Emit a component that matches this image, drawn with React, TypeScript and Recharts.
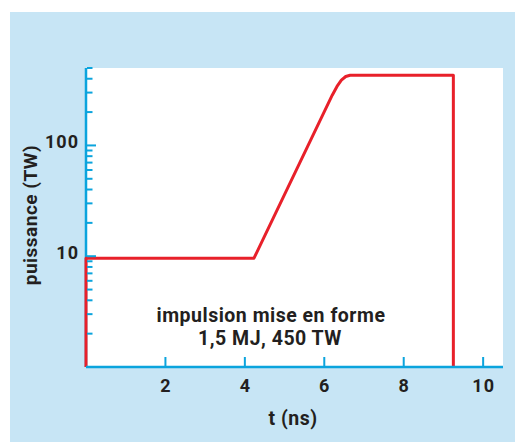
import { LineChart, Line, XAxis, YAxis, CartesianGrid } from 'recharts'

// pulse shape: time (ns) vs power (TW), log scale
const times = [0, 0, 4.23, 6.2, 6.32, 6.43, 6.54, 6.65, 9.25, 9.25]
const power = [1, 9.6, 9.6, 284, 341, 388, 419, 430, 430, 1]

const xTicks = [2, 4, 6, 8, 10]
const yTicks = [2, 3, 4, 5, 6, 7, 8, 9, 10, 20, 30, 40, 50, 60, 70, 80, 90, 100, 200, 300, 400, 500]
const yLabelled = [10, 100]

const blue = '#0ba4dd'
const red = '#e8202a'
const ink = '#231f20'
const font = 'Roboto, "DejaVu Sans", sans-serif'

const data = times.map((t, i) => ({ t, p: power[i] }))

function YTick(props: any) {
  const { x, y, payload } = props
  const major = yLabelled.includes(payload.value)
  return (
    <g>
      <line x1={x + 1} x2={x + (major ? 10 : 6.5)} y1={y} y2={y} stroke={blue} strokeWidth={2} />
      {major && (
        <text x={x - 7} y={y + 3} textAnchor="end" fill={ink} fontSize={18} fontWeight={700} fontFamily={font} letterSpacing={1}>
          {payload.value}
        </text>
      )}
    </g>
  )
}

function XTick(props: any) {
  const { x, y, payload } = props
  return (
    <g>
      <line x1={x} x2={x} y1={y} y2={y - 10} stroke={blue} strokeWidth={2} />
      <text x={x + 0.5} y={y + 25} textAnchor="middle" fill={ink} fontSize={18} fontWeight={700} fontFamily={font} letterSpacing={1}>
        {payload.value}
      </text>
    </g>
  )
}

export default function App() {
  return (
    <div style={{ position: 'absolute', left: 0, top: 0, width: 515, height: 442, background: '#fff' }}>
      <div style={{ position: 'absolute', left: 10, top: 12, right: 0, bottom: 0, background: '#c7e5f5' }} />
      <div style={{ position: 'absolute', left: 0, top: 0 }}>
        <LineChart width={515} height={442} data={data} margin={{ top: 68, right: 12, bottom: 45, left: 26 }}>
          {/* white plot area + left axis line drawn under the pulse */}
          <CartesianGrid
            horizontal={false}
            vertical
            fill="#ffffff"
            stroke={blue}
            strokeWidth={2.5}
            verticalCoordinatesGenerator={({ offset }: any) => [offset.left]}
          />
          <XAxis
            dataKey="t"
            type="number"
            domain={[0, 10.5]}
            ticks={xTicks}
            height={30}
            tickSize={0}
            tickMargin={0}
            tickLine={false}
            axisLine={{ stroke: blue, strokeWidth: 2.5 }}
            tick={<XTick />}
          />
          <YAxis
            dataKey="p"
            scale="log"
            domain={[1, 500]}
            ticks={yTicks}
            interval={0}
            width={60}
            tickSize={0}
            tickMargin={0}
            tickLine={false}
            axisLine={false}
            tick={<YTick />}
          />
          <Line
            dataKey="p"
            type="linear"
            stroke={red}
            strokeWidth={3}
            dot={false}
            strokeLinejoin="round"
            isAnimationActive={false}
          />
        </LineChart>
      </div>
      <svg width={515} height={442} style={{ position: 'absolute', left: 0, top: 0, pointerEvents: 'none' }}>
        <g fontFamily={font} fontWeight={700} fill={ink}>
          <text x={271} y={322} textAnchor="middle" fontSize={19.5} letterSpacing={0.5}>impulsion mise en forme</text>
          <text x={270} y={345} textAnchor="middle" fontSize={19.5} letterSpacing={0.5}>1,5 MJ, 450 TW</text>
          <text x={293} y={425} textAnchor="middle" fontSize={19.5} letterSpacing={0.5}>t (ns)</text>
          <text x={0} y={0} textAnchor="middle" fontSize={19} letterSpacing={0.5} transform="translate(37 215) rotate(-90)">
            puissance (TW)
          </text>
        </g>
      </svg>
    </div>
  )
}
